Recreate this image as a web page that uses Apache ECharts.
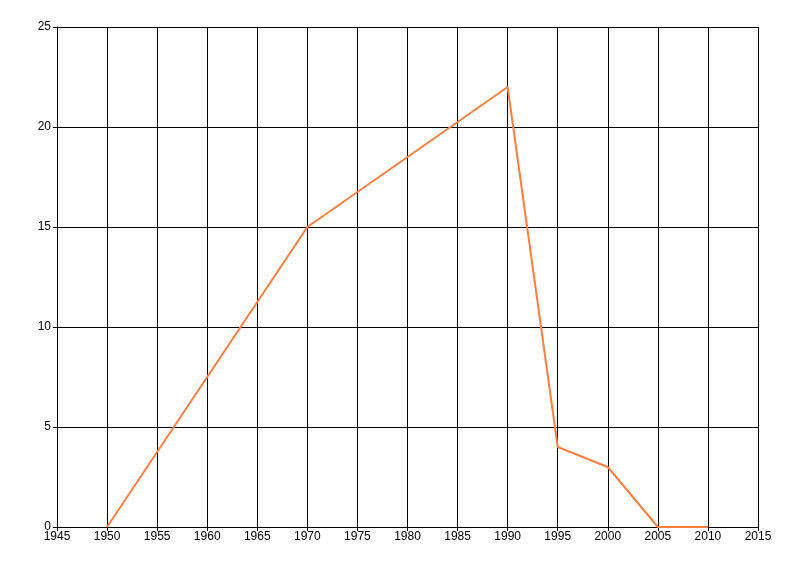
<!DOCTYPE html>
<html>
<head>
<meta charset="utf-8">
<script src="https://cdn.jsdelivr.net/npm/echarts@6/dist/echarts.min.js"></script>
<style>
  html, body { margin: 0; padding: 0; background: #fff; }
  #chart { width: 800px; height: 576px; }
</style>
</head>
<body>
<div id="chart"></div>
<script>
// data
const years = [1950, 1970, 1990, 1995, 2000, 2005, 2010];
const values = [0, 15, 22, 4, 3, 0, 0];

const myChart = echarts.init(document.getElementById('chart'), null, { renderer: 'canvas' });

const axisLine = { show: true, lineStyle: { color: '#000', width: 1 } };
const gridLine = { show: true, lineStyle: { color: '#000', width: 1 } };
const label = { color: '#000', fontFamily: 'Liberation Sans', fontSize: 12 };

myChart.setOption({
  animation: false,
  grid: { left: 57, right: 42, top: 27, bottom: 49 },
  xAxis: {
    type: 'value',
    min: 1945, max: 2015, interval: 5,
    axisLine: axisLine,
    axisTick: { show: true, length: 4, lineStyle: { color: '#000' } },
    splitLine: gridLine,
    axisLabel: Object.assign({ margin: 4, formatter: v => String(v) }, label)
  },
  yAxis: {
    type: 'value',
    min: 0, max: 25, interval: 5,
    axisLine: axisLine,
    axisTick: { show: true, length: 4, lineStyle: { color: '#000' } },
    splitLine: gridLine,
    axisLabel: Object.assign({ margin: 6 }, label)
  },
  series: [{
    type: 'line',
    data: years.map((y, i) => [y, values[i]]),
    showSymbol: false,
    lineStyle: { color: '#FF7F3F', width: 2 },
    itemStyle: { color: '#FF7F3F' }
  }]
});
</script>
</body>
</html>
